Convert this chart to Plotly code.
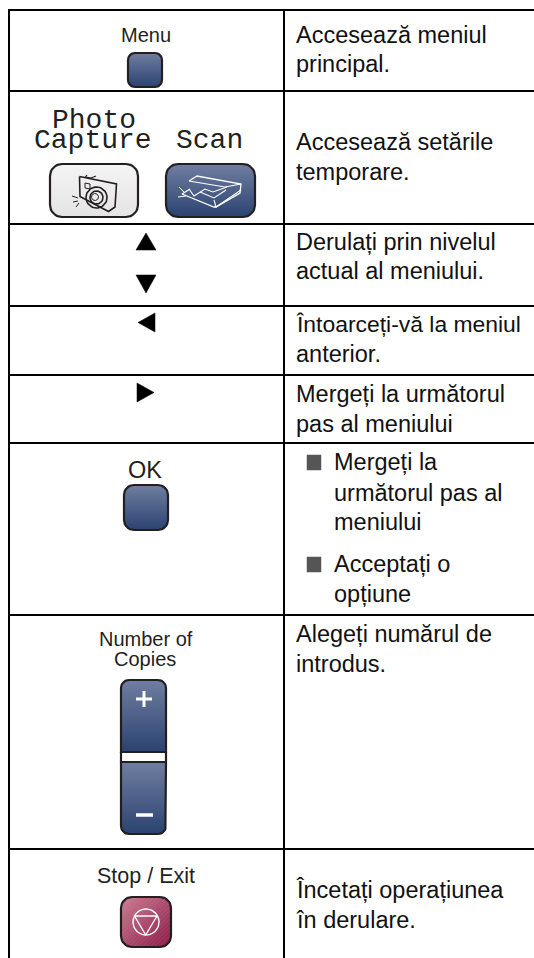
import math
import plotly.graph_objects as go

W, H = 534, 958
# table grid
col_edges = [9, 284]
row_edges = [10, 91, 224, 306, 375, 443, 615, 849]
grid_bottom = 958

desc_text = ["Accesează meniul", "principal.", "Accesează setările", "temporare.",
             "Derulați prin nivelul", "actual al meniului.", "Întoarceți-vă la meniul", "anterior.",
             "Mergeți la următorul", "pas al meniului", "Mergeți la", "următorul pas al",
             "meniului", "Acceptați o", "opțiune", "Alegeți numărul de", "introdus.",
             "Încetați operațiunea", "în derulare."]
desc_x = [294]*10 + [332]*5 + [294]*4
desc_base = [43, 72, 150, 180, 250, 279, 332, 362, 402, 432, 470, 501, 530, 572, 602, 642, 672, 898, 928]
desc_size = [23.5]*6 + [22.9] + [23.5]*12

key_text = ["Menu", "OK", "Number of", "Copies", "Stop / Exit"]
key_x = [146, 145, 146, 145, 146]
key_base = [42, 478, 646, 666, 883]
key_size = [20, 23.5, 20, 20, 21.5]
wide_text = ["Photo", "Capture", "Scan"]
wide_x = [94, 93, 209]
wide_base = [128, 148, 148]
WIDE_SIZE = 28

bullets_x = [307, 321]
bullets_y = [(455, 470), (557, 572)]

BLUE = ("#707ea0", "#2b4371")
menu_btn = (128, 162, 53, 87, 7) + BLUE
ok_btn = (124, 168, 485, 530, 10) + BLUE
scan_btn = (166, 255, 164, 217, 12) + BLUE
photo_btn = (50, 138, 164, 217, 12, "#f4f4f4", "#e4e4e4")
stop_btn = (121, 171, 897, 947, 11)
STOP_LIGHT = (203, 125, 148)
STOP_DARK = (140, 28, 72)

up_tri = ([136, 156, 146], [250, 250, 233])
down_tri = ([136, 156, 146], [275, 275, 293])
left_tri = ([155, 155, 138], [313, 332, 322.5])
right_tri = ([137, 137, 154], [383, 402, 392.5])


def rrect(x0, x1, y0, y1, r, n=8, corners=(1, 1, 1, 1)):
    xs, ys = [], []
    spec = [(x1, y0, -90, corners[1]), (x1, y1, 0, corners[2]), (x0, y1, 90, corners[3]), (x0, y0, 180, corners[0])]
    for cx, cy, a0, on in spec:
        if not on:
            xs.append(cx); ys.append(cy); continue
        sx = -1 if cx == x1 else 1
        sy = -1 if cy == y1 else 1
        for i in range(n + 1):
            a = math.radians(a0 + 90 * i / n)
            xs.append(cx + sx * r + r * math.cos(a))
            ys.append(cy + sy * r + r * math.sin(a))
    xs.append(xs[0]); ys.append(ys[0])
    return xs, ys


def circle(cx, cy, r, n=40):
    return ([cx + r * math.cos(2 * math.pi * i / n) for i in range(n + 1)],
            [cy + r * math.sin(2 * math.pi * i / n) for i in range(n + 1)])


def clip(pts, f):
    out = []
    for i in range(len(pts)):
        a, b = pts[i], pts[(i + 1) % len(pts)]
        fa, fb = f(a), f(b)
        if fa >= 0:
            out.append(a)
        if fa * fb < 0:
            t = fa / (fa - fb)
            out.append((a[0] + t * (b[0] - a[0]), a[1] + t * (b[1] - a[1])))
    return out


fig = go.Figure()


def line(xs, ys, color="#000", width=2):
    fig.add_trace(go.Scatter(x=xs, y=ys, mode="lines", line=dict(color=color, width=width),
                             hoverinfo="skip", showlegend=False))


def poly(xs, ys, color="#000", lw=0.5):
    fig.add_trace(go.Scatter(x=xs + xs[:1], y=ys + ys[:1], mode="lines", fill="toself", fillcolor=color,
                             line=dict(color=color, width=lw), hoverinfo="skip", showlegend=False))


def button(x0, x1, y0, y1, r, top, bottom, corners=(1, 1, 1, 1), gtype="vertical", lw=2.2):
    xs, ys = rrect(x0, x1, y0, y1, r, corners=corners)
    fig.add_trace(go.Scatter(x=xs, y=ys, mode="lines", fill="toself",
                             fillgradient=dict(type=gtype, colorscale=[[0, bottom], [1, top]]),
                             line=dict(color="#231f20", width=lw), hoverinfo="skip", showlegend=False))


# grid
for y in row_edges:
    line([col_edges[0] - 1, W], [y, y])
for x in col_edges:
    line([x, x], [row_edges[0] - 1, grid_bottom])

# buttons
for b in (menu_btn, ok_btn, scan_btn, photo_btn):
    button(*b)

# stop button with a diagonal gradient, built from clipped bands
sx0, sx1, sy0, sy1, sr = stop_btn
oxs, oys = rrect(sx0, sx1, sy0, sy1, sr)
outline = list(zip(oxs[:-1], oys[:-1]))
bands = 24
span = (sx1 - sx0) + (sy1 - sy0)
for k in range(bands):
    lo = sx0 + sy0 + span * k / bands
    hi = sx0 + sy0 + span * (k + 1) / bands
    pts = clip(clip(outline, lambda p: p[0] + p[1] - lo), lambda p: hi - p[0] - p[1])
    if len(pts) >= 3:
        t = (k + 0.5) / bands
        c = tuple(round(STOP_LIGHT[i] + t * (STOP_DARK[i] - STOP_LIGHT[i])) for i in range(3))
        col = "rgb(%d,%d,%d)" % c
        poly([p[0] for p in pts], [p[1] for p in pts], col, 0.6)
line(oxs, oys, "#231f20", 2.2)

# copies rocker
button(121, 166, 680, 752, 8, BLUE[0], BLUE[1], corners=(1, 1, 0, 0))
button(121, 166, 762, 834, 8, BLUE[0], BLUE[1], corners=(0, 0, 1, 1))
line([121, 121], [752, 762], "#231f20", 2.2)
line([166, 166], [752, 762], "#231f20", 2.2)
line([144, 144], [691, 707], "#fff", 3)
line([136, 152], [699, 699], "#fff", 3)
line([136, 153], [815, 815], "#fff", 3.5)

# stop glyph
line(*circle(146, 922, 13), "#fff", 1.4)
line([134.5, 157, 145.7, 134.5], [916, 916, 935, 916], "#fff", 1.4)

# triangles
for t in (up_tri, down_tri, left_tri, right_tri):
    poly(list(t[0]), list(t[1]))

# bullets
for y0, y1 in bullets_y:
    poly([bullets_x[0], bullets_x[1], bullets_x[1], bullets_x[0]], [y0, y0, y1, y1], "#555555")

# camera icon
CAM = "#231f20"
line([79.5, 116.5, 115, 108.5, 80, 79.5], [176.5, 184, 207, 211.5, 196.5, 176.5], CAM, 1.6)
line([87, 85.5, 91, 96], [175, 177, 178, 176], CAM, 1.2)
line([85, 85, 90, 90, 85], [183, 188, 189, 184, 183], CAM, 1)
line(*circle(96.5, 197.5, 10.5), CAM, 1.6)
line(*circle(96.5, 197.5, 6.5), CAM, 1.6)
line(*circle(95, 197, 3.5), CAM, 1)
line([72, 78], [196, 198], CAM, 1)
line([73, 78], [202, 201], CAM, 1)
line([76, 79], [207, 203], CAM, 1)

# scanner icon
SC = "#ffffff"
line([189, 197, 241, 240, 216, 214, 182, 190], [181, 176, 184, 193, 207, 207, 194, 189], SC, 1.3)
line([189, 225, 241], [181, 187, 184], SC, 1.1)
line([189, 194, 205, 213, 227], [189, 196, 189, 192, 187], SC, 1.1)
line([214, 216, 241], [200, 207, 190], SC, 1.1)
line([200, 214, 226], [192, 198, 190], SC, 1.1)
line([179, 184], [187, 192], SC, 1)
line([178, 186], [197, 196], SC, 1)

# text
annotations = []
for t, x, b, s in zip(desc_text, desc_x, desc_base, desc_size):
    annotations.append(dict(x=x, y=b - 0.34 * s, text=t, xanchor="left", yanchor="middle",
                            showarrow=False, font=dict(family="Liberation Sans", size=s, color="#111")))
for t, x, b, s in zip(key_text, key_x, key_base, key_size):
    annotations.append(dict(x=x, y=b - 0.34 * s, text=t, xanchor="center", yanchor="middle",
                            showarrow=False, font=dict(family="Liberation Sans", size=s, color="#231f20")))
for t, x, b in zip(wide_text, wide_x, wide_base):
    annotations.append(dict(x=x, y=b - 0.28 * WIDE_SIZE, text=t, xanchor="center", yanchor="middle",
                            showarrow=False, font=dict(family="Liberation Mono", size=WIDE_SIZE, color="#231f20")))

fig.update_layout(
    width=W, height=H, margin=dict(l=0, r=0, t=0, b=0), paper_bgcolor="#fff", plot_bgcolor="#fff",
    xaxis=dict(range=[0, W], visible=False, fixedrange=True),
    yaxis=dict(range=[H, 0], visible=False, fixedrange=True),
    annotations=annotations, showlegend=False,
)
fig.write_html("out.html", config=dict(displayModeBar=False),
               post_script="document.body.style.margin='0';document.documentElement.style.overflow='hidden';")
